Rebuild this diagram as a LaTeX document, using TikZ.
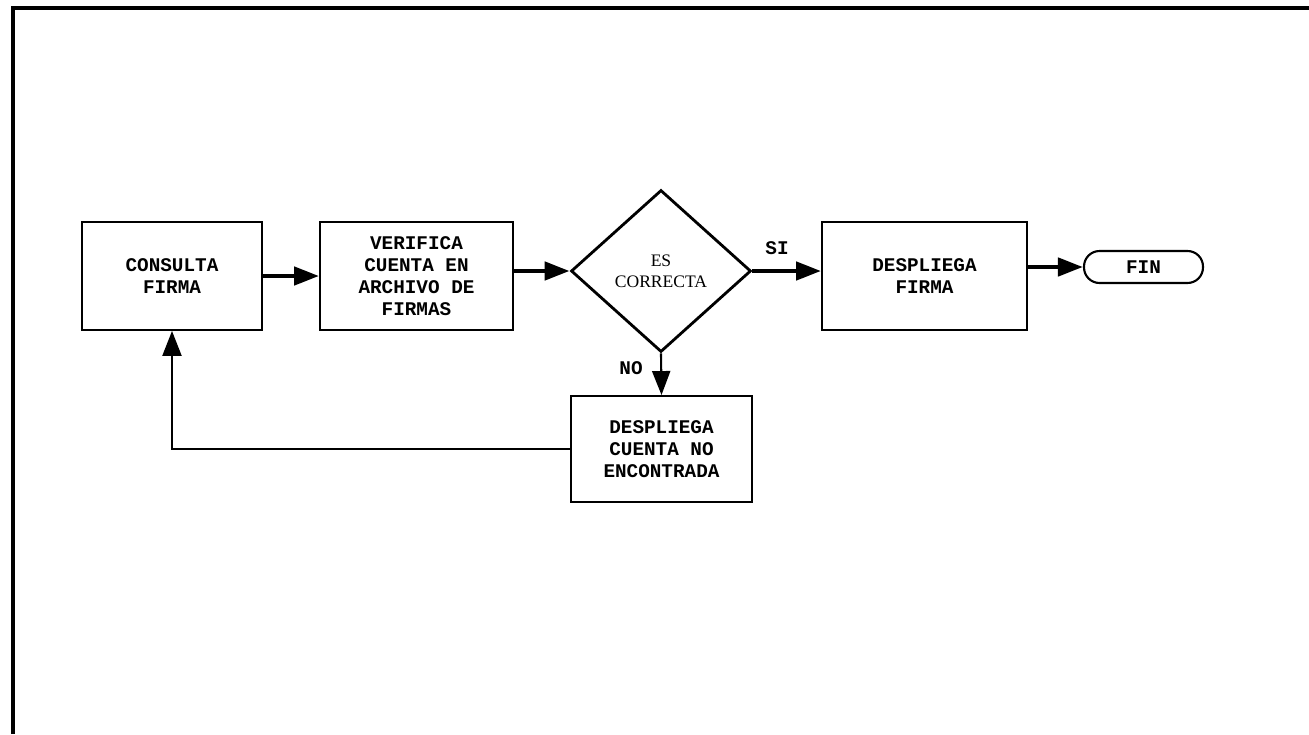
\documentclass[tikz,border=0pt]{standalone}
\usepackage{fontspec}
\setmainfont{Liberation Serif}
\setmonofont{Liberation Mono}
\usetikzlibrary{shapes.geometric,arrows.meta}

\begin{document}
\begin{tikzpicture}[x=0.02cm, y=-0.02cm,
  boxtext/.style={font=\ttfamily\bfseries\fontsize{11}{12.6}\selectfont, align=center},
  procbox/.style={draw, line width=1.1pt, boxtext, inner sep=0pt, minimum height=2.16cm},
  decision/.style={draw, diamond, line width=1.6pt, inner sep=0pt,
    minimum width=3.6cm, minimum height=3.24cm, align=center,
    font=\fontsize{10}{12}\selectfont},
  terminal/.style={draw, line width=1.2pt, rounded corners=0.31cm, boxtext,
    minimum width=2.38cm, minimum height=0.64cm, inner sep=0pt},
  flowlabel/.style={font=\ttfamily\bfseries\fontsize{11}{12}\selectfont},
  mainflow/.style={line width=2.6pt, -{Triangle[length=0.5cm,width=0.36cm]}},
  thinflow/.style={line width=1.2pt, -{Triangle[length=0.48cm,width=0.36cm]}},
  returnline/.style={line width=1.3pt}
]
\useasboundingbox (0,0) rectangle (1309,734);
\fill[white] (0,0) rectangle (1309,734);

% page frame
\draw[line width=2pt] (13,734) -- (13,8) -- (1309,8);

% process steps
\node[procbox, minimum width=3.6cm]  (consulta)  at (172,276)   {CONSULTA\\FIRMA};
\node[procbox, minimum width=3.86cm] (verifica)  at (416.5,276) {VERIFICA\\CUENTA EN\\ARCHIVO DE\\FIRMAS};
\node[decision]                      (correcta)  at (661,271)   {ES\\CORRECTA};
\node[procbox, minimum width=4.1cm]  (despfirma) at (924.5,276) {DESPLIEGA\\FIRMA};
\node[terminal]                      (fin)       at (1143.5,267) {FIN};
\node[procbox, minimum width=3.62cm, minimum height=2.12cm]
                                     (despcuenta) at (661.5,449) {DESPLIEGA\\CUENTA NO\\ENCONTRADA};

% branch labels
\node[flowlabel] (si) at (777,248) {SI};
\node[flowlabel] (no) at (631,368) {NO};

% connectors
\draw[mainflow] (consulta.east) -- (verifica.west);
\draw[mainflow] (verifica.east |- correcta.west) -- (correcta.west);
\draw[mainflow] (correcta.east) -- (correcta.east -| despfirma.west);
\draw[mainflow] (despfirma.east |- fin.west) -- (fin.west);
\draw[thinflow] (correcta.south) -- (despcuenta.north);
\draw[returnline, -{Triangle[length=0.5cm,width=0.38cm]}]
  (despcuenta.west) -| (consulta.south);
\end{tikzpicture}
\end{document}
